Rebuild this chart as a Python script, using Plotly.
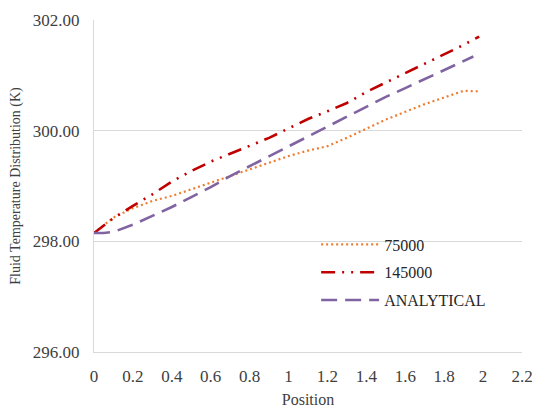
import plotly.graph_objects as go

# Data
pos_145 = [0, 0.1, 0.2, 0.3, 0.4, 0.5, 0.6, 0.7, 0.8, 0.9, 1.0, 1.1, 1.2, 1.3, 1.4,
           1.5, 1.6, 1.7, 1.8, 1.9, 1.98]
t_145 = [298.15, 298.42, 298.64, 298.85, 299.08, 299.27, 299.44, 299.58, 299.72, 299.87,
         300.04, 300.21, 300.35, 300.50, 300.70, 300.87, 301.03, 301.20, 301.38, 301.55, 301.70]

pos_75 = [0, 0.1, 0.2, 0.3, 0.4, 0.5, 0.6, 0.7, 0.8, 0.9, 1.0, 1.1, 1.2, 1.3, 1.4,
          1.5, 1.6, 1.7, 1.8, 1.85, 1.9, 1.98]
t_75 = [298.15, 298.43, 298.60, 298.73, 298.82, 298.94, 299.06, 299.18, 299.30, 299.43,
        299.54, 299.64, 299.72, 299.87, 300.04, 300.20, 300.34, 300.48, 300.60, 300.66,
        300.72, 300.71]

pos_an = [0, 0.05, 0.1, 0.2, 0.3, 0.4, 0.5, 0.6, 0.7, 0.8, 0.9, 1.0, 1.1, 1.2, 1.3,
          1.4, 1.5, 1.6, 1.7, 1.8, 1.9, 1.95]
t_an = [298.15, 298.15, 298.17, 298.30, 298.46, 298.62, 298.80, 298.98, 299.18, 299.36,
        299.54, 299.72, 299.90, 300.08, 300.26, 300.44, 300.61, 300.77, 300.93, 301.10,
        301.26, 301.34]

names = ["75000", "145000", "ANALYTICAL"]
x_ticks = [0, 0.2, 0.4, 0.6, 0.8, 1, 1.2, 1.4, 1.6, 1.8, 2, 2.2]
y_ticks = [296, 298, 300, 302]

font_family = "Liberation Serif"

fig = go.Figure()
fig.add_trace(go.Scatter(x=pos_75, y=t_75, mode="lines", name=names[0], legendgroup="a",
                         line=dict(color="#ED7D31", width=2.2, dash="2px,3px")))
fig.add_trace(go.Scatter(x=pos_145, y=t_145, mode="lines", name=names[1], legendgroup="b",
                         line=dict(color="#C00000", width=2.6,
                                   dash="14px,7px,2px,7px,2px,7px")))
fig.add_trace(go.Scatter(x=pos_an, y=t_an, mode="lines", name=names[2], legendgroup="c",
                         line=dict(color="#8064A2", width=2.6, dash="16px,8px")))

fig.update_layout(
    width=533, height=408,
    margin=dict(l=94, r=11, t=20, b=56),
    paper_bgcolor="white", plot_bgcolor="white",
    font=dict(family=font_family, size=17, color="#404040"),
    showlegend=True,
    legend=dict(x=0.519, y=0.375, xanchor="left", yanchor="top",
                bgcolor="rgba(0,0,0,0)", font=dict(size=16, color="#262626"),
                itemwidth=58, tracegroupgap=4),
    xaxis=dict(range=[0, 2.2], tickvals=x_ticks, showgrid=False, zeroline=False,
               showline=True, linecolor="#D9D9D9", linewidth=1, ticks="",
               ticklabelstandoff=9, automargin=False,
               title=dict(text="Position", standoff=10, font=dict(size=16)),
               tickfont=dict(size=17, color="#404040")),
    yaxis=dict(range=[296, 302], tickvals=y_ticks, tickformat=".2f",
               showgrid=True, gridcolor="#D9D9D9", gridwidth=1, zeroline=False,
               showline=True, linecolor="#D9D9D9", linewidth=1, ticks="",
               ticklabelstandoff=10, automargin=False,
               title=dict(text="Fluid Temperature Distribution (K)", standoff=8,
                          font=dict(size=14)),
               tickfont=dict(size=17, color="#404040")),
)

fig.write_html("out.html")
